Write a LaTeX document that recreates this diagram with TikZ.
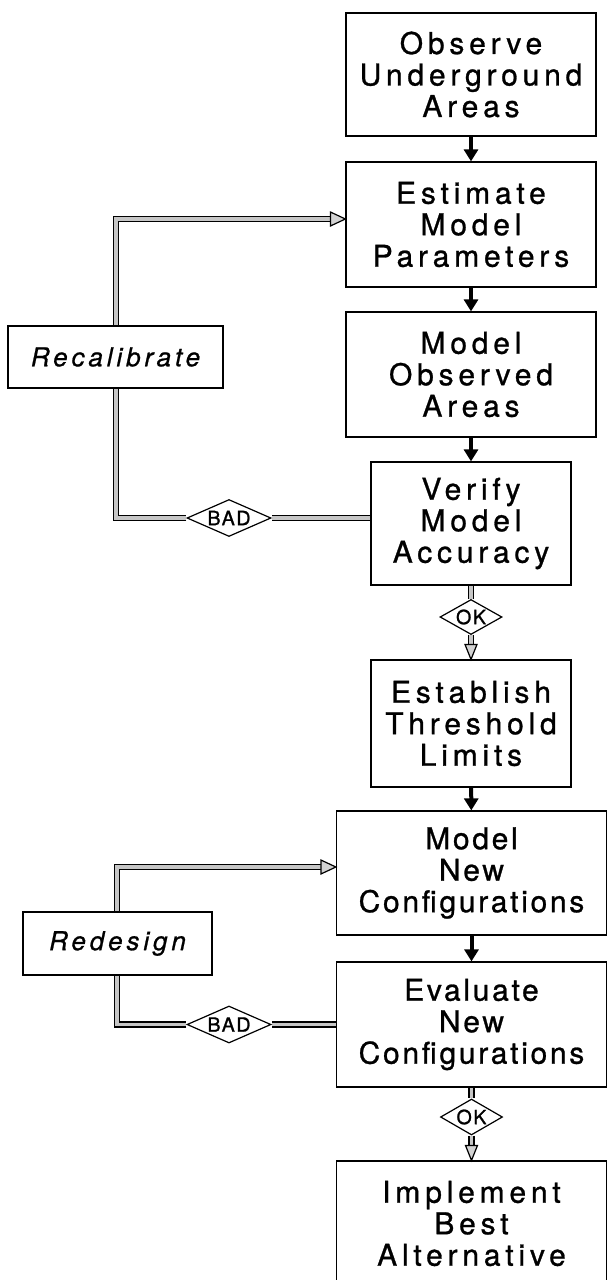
\documentclass[tikz,border=0pt]{standalone}
\usepackage{fontspec}
\setmainfont{TeX Gyre Heros}
\newfontfamily\boxfont{TeX Gyre Heros}[LetterSpace=16,FakeBold=0.9]
\newfontfamily\boxfontn{TeX Gyre Heros}[LetterSpace=9,FakeBold=0.9]
\newfontfamily\sidefont{TeX Gyre Heros}[LetterSpace=15,FakeBold=0.8]
\newfontfamily\tagfont{TeX Gyre Heros}[LetterSpace=8,FakeBold=1.2]
\usetikzlibrary{arrows.meta,shapes.geometric,backgrounds,calc}
\begin{document}
\begin{tikzpicture}[x=0.5pt,y=-0.5pt,
  box/.style={draw, line width=0.6pt, fill=white, align=center, inner sep=0pt,
    font=\boxfont\fontsize{15}{15.75}\selectfont},
  boxn/.style={box, font=\boxfontn\fontsize{15}{15.75}\selectfont},
  sidebox/.style={draw, line width=0.6pt, fill=white, inner sep=0pt,
    font=\sidefont\itshape\fontsize{13}{14}\selectfont},
  tag/.style={diamond, draw, line width=0.6pt, fill=white, inner sep=0pt, aspect=2,
    font=\tagfont\fontsize{9.8}{10}\selectfont},
  blk/.style={line width=2pt, -{Triangle[length=6pt,width=7pt]}},
  fb/.style={draw=black, line width=0.7pt, double=gray!45, double distance=1.8pt, line join=miter},
  head/.style={draw=black, line width=0.6pt, fill=gray!35, line join=miter}
]
\useasboundingbox (0,0) rectangle (607,1280);
\clip (0,0) rectangle (607,1280);

% main boxes
\node[box, minimum width=125pt, minimum height=61.5pt] (b1) at (471,74.5) {Observe\\Underground\\Areas};
\node[box, minimum width=125pt, minimum height=62.5pt] (b2) at (471,224.5) {Estimate\\Model\\Parameters};
\node[box, minimum width=125pt, minimum height=62.5pt] (b3) at (471,374.5) {Model\\Observed\\Areas};
\node[box, minimum width=100pt, minimum height=61.5pt] (b4) at (471,523.5) {Verify\\Model\\Accuracy};
\node[box, minimum width=100pt, minimum height=63.5pt] (b5) at (471,723.5) {Establish\\Threshold\\Limits};
\node[boxn, minimum width=135pt, minimum height=62pt] (b6) at (471.5,873) {Model\\New\\Configurations};
\node[boxn, minimum width=135pt, minimum height=62.5pt] (b7) at (471.5,1024.5) {Evaluate\\New\\Configurations};
\node[box, minimum width=135pt, minimum height=62.5pt] (b8) at (471.5,1223.5) {Implement\\Best\\Alternative};

% side boxes
\node[sidebox, minimum width=107.5pt, minimum height=31pt] (recal) at (115.5,357) {Recalibrate};
\node[sidebox, minimum width=94.5pt, minimum height=31.5pt] (redes) at (117.5,943.5) {Redesign};

% decision tags
\node[tag, minimum width=42pt, minimum height=18.5pt] (bad1) at (229,518) {BAD};
\node[tag, minimum width=42pt, minimum height=18.5pt] (bad2) at (229,1024.5) {BAD};
\node[tag, minimum width=31pt, minimum height=17.5pt] (ok1) at (471,617) {OK};
\node[tag, minimum width=31pt, minimum height=18pt] (ok2) at (471.5,1117) {OK};

\coordinate (c1) at (116,518);
\coordinate (c2) at (116,219);
\coordinate (c3) at (117,1024.5);
\coordinate (c4) at (117,867);

% black flow arrows
\draw[blk] (b1) -- (b2);
\draw[blk] (b2) -- (b3);
\draw[blk] (b3) -- (b4);
\draw[blk] (b5) -- (b6);
\draw[blk] (b6) -- (b7);

\begin{pgfonlayer}{background}
  % recalibrate loop
  \draw[fb] (bad1.east -| b4.west) -- (bad1.east);
  \draw[fb, shorten >=7.5pt] (bad1.west) -- (c1) -- (c2) -- (c2 -| b2.west);
  % redesign loop
  \draw[fb] (bad2.east -| b7.west) -- (bad2.east);
  \draw[fb, shorten >=7.5pt] (bad2.west) -- (c3) -- (c4) -- (c4 -| b6.west);
  % OK flows
  \draw[fb] (b4.south) -- (ok1.north);
  \draw[fb, shorten >=7.5pt] (ok1.south) -- (b5.north);
  \draw[fb] (b7.south) -- (ok2.north);
  \draw[fb, shorten >=7.5pt] (ok2.south) -- (b8.north);
\end{pgfonlayer}

% hollow arrow heads
\draw[head] (c2 -| b2.west) -- ++(-15,-7) -- ++(0,14) -- cycle;
\draw[head] (c4 -| b6.west) -- ++(-15,-7) -- ++(0,14) -- cycle;
\draw[head] (b5.north) -- ++(-6,-15) -- ++(12,0) -- cycle;
\draw[head] (b8.north) -- ++(-6,-15) -- ++(12,0) -- cycle;
\end{tikzpicture}
\end{document}
